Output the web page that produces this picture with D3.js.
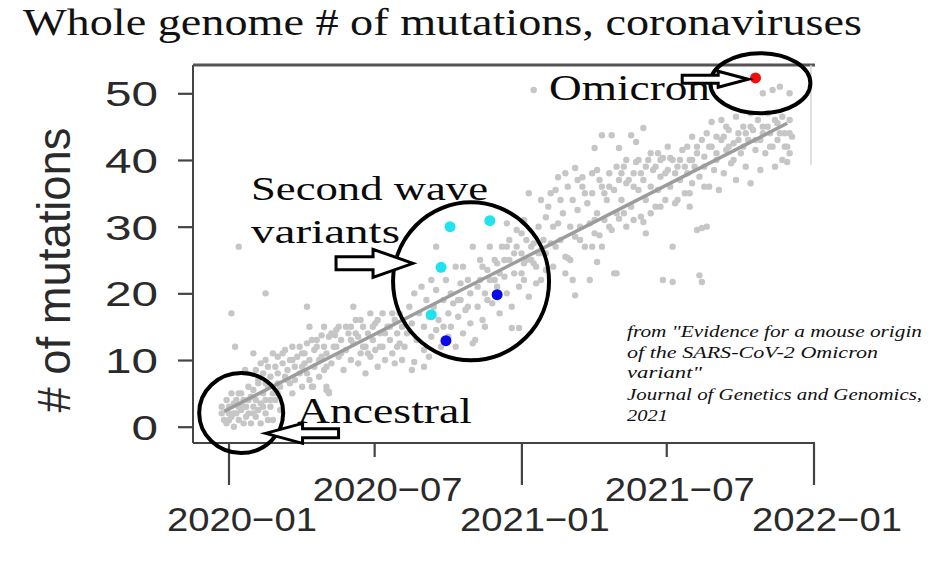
<!DOCTYPE html>
<html>
<head>
<meta charset="utf-8">
<script src="https://cdn.jsdelivr.net/npm/d3@7"></script>
<style>
  body { margin: 0; background: #fff; }
  svg { display: block; }
</style>
</head>
<body>
<div id="plot"></div>
<script>
// data: [months since 2020-01-01, # of mutations]
const grayPoints = [
  // ancestral cluster
  [-0.3,3],[-0.3,2],[-0.2,1],[-0.1,4],[-0.1,0.5],[0,3],[0,2],[0.1,1.5],[0.1,5],[0.2,3.5],[0.2,0],
  [0.3,2],[0.3,4],[0.4,1],[0.4,3],[0.5,5],[0.5,2.5],[0.6,0.5],[0.6,4],[0.7,3],[0.7,1.5],[0.8,6],
  [0.8,2],[0.9,4.5],[0.9,0.5],[1.0,3],[1.0,5.5],[1.1,1.5],[1.1,4],[1.2,2.5],[1.2,6.5],[1.3,3.5],
  [1.3,0.5],[1.4,5],[1.5,2],[1.5,4],[1.6,6],[1.7,3],[1.8,1],[1.8,5],[1.9,4],[2.0,6.5],[2.1,2.5],
  [0.2,2],[0.6,3],[1.0,2],[1.4,3],[0.8,4],[1.6,1],[0.0,1],[0.4,5],
  // early outliers
  [0.4,27],[1.5,20],[0.1,17],[0.25,12],[1.0,11],[3.2,18],[5.1,18],[0.66,8.5],[3.45,6],[4.0,6],[4.1,5.2],
  // 2020-02 .. 2020-05
  [1.1,8.5],[1.2,7],[1.3,9.5],[1.4,8],[1.5,10],[1.5,6.5],[1.6,9],[1.7,7.5],[1.8,11],[1.9,9],[2.0,8],
  [2.0,10.5],[2.1,6],[2.2,9.5],[2.3,7.5],[2.3,11.5],[2.4,8.5],[2.5,10],[2.5,6.5],[2.6,12],[2.7,9],
  [2.7,7],[2.8,10.5],[2.9,8],[3.0,11],[3.0,6],[3.1,9.5],[3.2,12.5],[3.2,8],[3.3,10],[3.4,6],[3.5,11.5],
  [3.5,9],[3.6,13],[3.7,7.5],[3.8,10.5],[3.9,12],[3.9,8.5],[4.0,5.5],[4.0,11],[4.1,5],[4.1,13.5],
  [3.3,15],[3.9,15],[4.5,15],[3.8,13.7],[4.35,13.7],
  [2.2,11],[2.6,10],[2.9,12],[3.1,11],[3.4,13],[3.6,12],[3.7,10],[4.0,9],[3.0,9],[2.4,7],[2.0,5],
  [1.7,4],[2.6,5],[3.3,7],
  // 2020-05 .. 2020-08
  [4.2,9.5],[4.3,12],[4.4,14.5],[4.5,10.5],[4.6,13],[4.7,8.5],[4.8,11.5],[4.9,14],[5.0,15],
  [5.0,10],[5.1,12.5],[5.2,16],[5.3,9.5],[5.3,13.5],[5.4,11],[5.5,15],[5.6,12],[5.6,8],[5.7,14],
  [5.8,17],[5.8,10.5],[5.9,13],[6.0,15.5],[6.0,11.5],[6.1,9],[6.2,14],[6.3,17],[6.3,12],[6.4,10],
  [6.5,15],[6.6,13],[6.7,11],[6.8,16],[6.8,9.5],[6.9,14],[7.0,12.5],[7.1,10],[7.2,12],[7.0,17],
  [4.2,14],[4.4,12],[4.6,11],[4.8,15],[5.0,13],[5.2,14],[5.4,16],[5.5,12],[5.7,11],[5.9,15],
  [6.1,16],[6.2,12],[6.4,14],[6.6,15],[6.7,17],[6.9,12],[7.1,15],
  // 2020-08 .. 2020-11
  [7.3,14],[7.4,18],[7.5,15.5],[7.6,9.7],[7.6,20],[7.7,13],[7.8,17],[7.9,21],[8.0,15],[8.0,11.5],
  [8.1,19],[8.2,16.5],[8.3,22],[8.3,13.5],[8.4,18],[8.5,14.5],[8.5,20.5],[8.6,16],[8.7,12],[8.8,19],
  [8.8,15],[8.9,22],[9.0,17],[9.0,13.5],[9.1,20],[9.1,15],[9.2,18.5],[9.3,24],[9.3,12],[9.4,16.5],
  [9.5,21.5],[9.5,19],[9.6,14],[9.6,24],[9.7,17.5],[9.8,22],[9.9,15.5],[9.9,20],[10.0,12.5],
  [10.0,27],[8.5,27],[8.2,10.5],[8.0,9],[7.5,8.5],[9.4,19],[9.8,18],
  // 2020-11 .. 2021-02
  [10.1,13],[10.2,18],[10.3,22],[10.3,25],[10.4,16],[10.5,20],[10.5,15],[10.6,23.5],[10.7,22],
  [10.7,27],[10.8,18.5],[10.9,25],[11.0,21],[11.0,24.5],[11.1,17],[11.2,27],[11.3,22.5],[11.4,20],
  [11.4,30.5],[11.4,27],[11.5,25],[11.6,14.8],[11.6,18],[11.7,23],[11.8,29.5],[11.8,27],[11.9,14.8],
  [11.9,21],[12.0,26],[12.1,24.5],[12.1,31],[12.1,22],[12.2,28],[12.3,19.5],[12.3,35],[12.4,25],
  [12.5,27.5],[12.5,24.5],[12.6,21.5],[12.7,30],[12.8,22],[12.8,34],[12.9,26],[13.0,31.4],[13.0,23.5],
  [12.5,50.5],
  [10.2,21],[10.6,19],[11.1,23],[11.3,25],[11.7,26],[12.0,23],[12.2,25],[12.4,27],[12.6,24],[12.9,28],
  [13.0,26],[10.4,24],[10.9,22],[11.5,28],[12.0,29],[12.7,26],
  // 2021-02 .. 2021-05
  [13.1,33],[13.2,27.5],[13.3,30],[13.3,24],[13.4,35.5],[13.5,30.5],[13.5,37.4],[13.6,28],[13.7,32],
  [13.8,25.5],[13.8,38],[13.8,23],[13.9,25.3],[14.0,30],[14.0,25],[14.1,34],[14.1,22],[14.2,28.5],
  [14.2,38.8],[14.2,19.7],[14.3,32.5],[14.4,30],[14.5,36],[14.5,37.4],[14.6,27],[14.7,33.5],[14.8,22],
  [14.8,30.5],[14.9,35],[14.9,27],[15.0,29],[15.0,41.8],[15.1,38.5],[15.1,24.7],[15.1,32],[15.2,28.7],
  [15.3,36],[15.3,43.7],[15.3,27],[15.4,31],[15.5,34],[15.6,38],[15.7,43.7],[15.7,29.5],[15.8,23],
  [15.8,35.5],[15.9,32],[15.9,23],[16.0,41.8],[16.0,31.2],[16.0,37],
  [13.2,35],[13.6,34],[13.9,36],[14.3,37],[14.6,35],[14.9,38],[15.2,37],[15.4,35],[15.6,36],[15.9,39],
  [13.4,27],[14.4,28],[15.0,31],[15.6,30],
  // 2021-05 .. 2021-08
  [16.1,34],[16.2,39],[16.3,30],[16.3,36.5],[16.5,43.7],[16.5,33],[16.6,38],[16.7,42.7],[16.7,39.7],
  [16.8,35.5],[16.9,31.5],[17.0,44.8],[17.0,37],[17.0,30.7],[17.1,29],[17.1,34],[17.2,40],[17.3,36],
  [17.4,38.5],[17.5,33],[17.6,41],[17.6,35.5],[17.7,37.5],[17.8,40.3],[17.8,22],[17.9,34],[18.0,38.5],
  [18.1,40.3],[18.1,36],[18.2,27],[18.2,21.7],[18.3,33.5],[18.4,39],[18.5,37],[18.6,41.5],[18.7,35],
  [18.8,38],[18.9,40],[18.9,33],[19.0,43.5],[19.0,36.5],[19.2,29.5],[19.3,22.7],[19.4,21.7],[19.4,29.8],
  [16.1,38],[16.3,40],[16.4,37],[16.6,36],[16.8,40],[16.9,38],[17.1,39],[17.3,41],[17.5,39],[17.7,40],
  [17.9,38],[18.0,42],[18.2,40],[18.3,38],[18.5,40],[18.7,39],[18.8,42],[19.0,40],
  [16.2,32],[16.6,31],[17.3,32],[17.7,33],[18.4,34],[18.9,35],
  // 2021-08 .. 2021-12
  [19.1,39],[19.2,42],[19.3,37.5],[19.5,40.5],[19.6,44],[19.6,30],[19.7,42],[19.7,36],[19.8,45.7],
  [19.9,38.5],[20.0,43.5],[20.0,40],[20.1,35.5],[20.2,46],[20.3,43.5],[20.3,38],[20.4,41.5],[20.5,44.5],
  [20.6,39.5],[20.7,42.5],[20.8,46.5],[20.8,37],[20.9,44],[21.0,41],[21.1,45],[21.2,39],[21.3,43],
  [21.4,47],[21.4,36.5],[21.5,44.5],[21.6,41.5],[21.7,46],[21.8,43],[21.8,38.5],[21.9,50],[21.9,45],
  [22.0,41],[22.1,47],[22.2,44],[22.3,42],[22.3,50.5],[22.4,39],[22.5,45.5],[22.5,43],[22.6,51],
  [22.7,40],[22.7,46.5],[22.8,44],[22.9,39.7],[22.9,42],[23.0,50],[23.0,46],[23.1,43.5],
  [19.2,41],[19.4,43],[19.5,39],[19.8,42],[20.0,41],[20.2,43],[20.4,45],[20.5,42],[20.7,40],[20.9,43],
  [21.1,42],[21.2,44],[21.4,45],[21.6,43],[21.9,44],[22.1,45],[22.2,42],[22.4,46],[22.6,44],[22.8,42],
  [23.0,44],[23.0,41],[19.5,36]
];

// highlighted variants
const cyanPoints = [[9.07,30],[10.7,30.9],[8.7,23.9],[8.3,16.8]];
const bluePoints = [[11.0,19.8],[8.9,12.9]];
const redPoints = [[21.6,52.3]];

// fitted trend line ends
const trendMonths = [-0.2, 22.9];
const trendValues = [2.3, 45.5];

const xTickDates = ["2020-01-01", "2020-07-01", "2021-01-01", "2021-07-01", "2022-01-01"];
const xTickLabels = ["2020\u221201", "2020\u221207", "2021\u221201", "2021\u221207", "2022\u221201"];
const xTickLong = [true, false, true, false, true];
const yTicks = [0, 10, 20, 30, 40, 50];

const citationLines = [
  "from \"Evidence for a mouse origin",
  "of the SARS-CoV-2 Omicron",
  "variant\"",
  "Journal of Genetics and Genomics,",
  "2021"
];

const W = 951, H = 577;
const box = { left: 193, right: 815, top: 65, bottom: 443 };

const svg = d3.select("#plot").append("svg")
  .attr("width", W)
  .attr("height", H);

svg.append("rect").attr("width", W).attr("height", H).attr("fill", "#fff");

const parse = d3.timeParse("%Y-%m-%d");
const t0 = parse("2020-01-01");
const dayMs = 24 * 3600 * 1000;
// months since 2020-01 -> date (731 days per 24 months)
const monthToDate = m => new Date(t0.getTime() + m * (731 / 24) * dayMs);

const x = d3.scaleTime()
  .domain([parse("2020-01-01"), parse("2022-01-01")])
  .range([229, 814]);

const y = d3.scaleLinear()
  .domain([0, 50])
  .range([426.7, 93.3]);

// title
svg.append("text")
  .attr("x", 23)
  .attr("y", 35)
  .attr("font-family", "Liberation Serif, Times New Roman, serif")
  .attr("font-size", 38)
  .attr("textLength", 839)
  .attr("lengthAdjust", "spacingAndGlyphs")
  .attr("fill", "#111")
  .text("Whole genome # of mutations, coronaviruses");

// gray scatter
svg.append("g")
  .selectAll("circle")
  .data(grayPoints)
  .enter().append("circle")
  .attr("cx", d => x(monthToDate(d[0])))
  .attr("cy", d => y(d[1]))
  .attr("r", 3.2)
  .attr("fill", "#c6c6c6");

// trend line
svg.append("path")
  .datum(trendMonths.map((m, i) => [m, trendValues[i]]))
  .attr("d", d3.line().x(d => x(monthToDate(d[0]))).y(d => y(d[1])))
  .attr("stroke", "#9c9c9c")
  .attr("stroke-width", 3.5)
  .attr("fill", "none");

// highlighted points
function drawPoints(data, color) {
  svg.append("g")
    .selectAll("circle")
    .data(data)
    .enter().append("circle")
    .attr("cx", d => x(monthToDate(d[0])))
    .attr("cy", d => y(d[1]))
    .attr("r", 5.5)
    .attr("fill", color);
}
drawPoints(cyanPoints, "#1fe3ef");
drawPoints(bluePoints, "#0a0ae6");
drawPoints(redPoints, "#f20d0d");

// plot box (right side mostly erased in the source)
const frame = svg.append("g").attr("fill", "none");
frame.append("line").attr("x1", box.left).attr("x2", box.left).attr("y1", box.top).attr("y2", box.bottom)
  .attr("stroke", "#444").attr("stroke-width", 2);
frame.append("line").attr("x1", box.left).attr("x2", box.right).attr("y1", box.top).attr("y2", box.top)
  .attr("stroke", "#555").attr("stroke-width", 3);
frame.append("line").attr("x1", box.left).attr("x2", box.right).attr("y1", box.bottom).attr("y2", box.bottom)
  .attr("stroke", "#444").attr("stroke-width", 2);
frame.append("line").attr("x1", box.right - 4).attr("x2", box.right - 4).attr("y1", box.top).attr("y2", 165)
  .attr("stroke", "#d6d6d6").attr("stroke-width", 1.5);

// y axis
const yAxis = svg.append("g")
  .attr("transform", "translate(" + box.left + ",0)")
  .call(d3.axisLeft(y).tickValues(yTicks).tickSize(15).tickPadding(20));
yAxis.select(".domain").remove();
yAxis.selectAll(".tick line").attr("stroke", "#444").attr("stroke-width", 2.2);
yAxis.selectAll(".tick text")
  .attr("x", -35)
  .attr("dy", "0.36em")
  .attr("font-family", "Liberation Sans, Arial, sans-serif")
  .attr("font-size", 35)
  .attr("fill", "#2a2a2a")
  .attr("textLength", d => String(d).length * 26.5)
  .attr("lengthAdjust", "spacingAndGlyphs");

svg.append("text")
  .attr("transform", "translate(70,270) rotate(-90)")
  .attr("text-anchor", "middle")
  .attr("font-family", "Liberation Sans, Arial, sans-serif")
  .attr("font-size", 46)
  .attr("textLength", 285)
  .attr("lengthAdjust", "spacingAndGlyphs")
  .attr("fill", "#2a2a2a")
  .text("# of mutations");

// x axis: long ticks at January, short at July, labels staggered
const xg = svg.append("g");
xTickDates.forEach((ds, i) => {
  const px = x(parse(ds));
  const len = xTickLong[i] ? 42 : 14;
  xg.append("line")
    .attr("x1", px).attr("x2", px)
    .attr("y1", box.bottom).attr("y2", box.bottom + len)
    .attr("stroke", "#444").attr("stroke-width", 2.2);
  xg.append("text")
    .attr("x", px + 13)
    .attr("y", xTickLong[i] ? 531 : 501)
    .attr("text-anchor", "middle")
    .attr("font-family", "Liberation Sans, Arial, sans-serif")
    .attr("font-size", 34)
    .attr("textLength", 150)
    .attr("lengthAdjust", "spacingAndGlyphs")
    .attr("fill", "#2a2a2a")
    .text(xTickLabels[i]);
});

// annotations: ellipses (centre in data units, radii in px)
const rings = [
  { m: 21.8, v: 51.5, rx: 50, ry: 30 },
  { m: 9.93, v: 21.8, rx: 78, ry: 79 },
  { m: 0.5, v: 2.05, rx: 42, ry: 40 }
];
svg.append("g")
  .selectAll("ellipse")
  .data(rings)
  .enter().append("ellipse")
  .attr("cx", d => x(monthToDate(d.m)))
  .attr("cy", d => y(d.v))
  .attr("rx", d => d.rx)
  .attr("ry", d => d.ry)
  .attr("fill", "none")
  .attr("stroke", "#000")
  .attr("stroke-width", 4);

// block arrows: tip in data units, dir +1 right / -1 left
const arrows = [
  { m: 21.3, v: 52.1, dir: 1, shaft: 36, head: 30, sh: 8, hh: 16 },
  { m: 7.55, v: 24.5, dir: 1, shaft: 37, head: 40, sh: 13, hh: 28 },
  { m: 1.5, v: -1.0, dir: -1, shaft: 36, head: 37, sh: 9, hh: 20 }
];
arrows.forEach(a => {
  const tx = x(monthToDate(a.m)), ty = y(a.v);
  const d = a.dir;
  const bx = tx - d * a.head, ex = bx - d * a.shaft;
  const pts = [
    [tx, ty], [bx, ty - a.hh / 2], [bx, ty - a.sh / 2], [ex, ty - a.sh / 2],
    [ex, ty + a.sh / 2], [bx, ty + a.sh / 2], [bx, ty + a.hh / 2]
  ];
  svg.append("path")
    .attr("d", "M" + pts.map(p => p.join(",")).join("L") + "Z")
    .attr("fill", "#fff")
    .attr("stroke", "#000")
    .attr("stroke-width", 3)
    .attr("stroke-linejoin", "miter");
});

// labels
const labels = [
  { text: "Omicron", x: 549, y: 100, len: 161, size: 36 },
  { text: "Second wave", x: 251, y: 200, len: 237, size: 34 },
  { text: "variants", x: 251, y: 243, len: 149, size: 34 },
  { text: "Ancestral", x: 297, y: 423, len: 175, size: 36 }
];
labels.forEach(l => {
  svg.append("text")
    .attr("x", l.x).attr("y", l.y)
    .attr("font-family", "Liberation Serif, Times New Roman, serif")
    .attr("font-size", l.size)
    .attr("textLength", l.len)
    .attr("lengthAdjust", "spacingAndGlyphs")
    .attr("fill", "#0a0a0a")
    .text(l.text);
});

// citation
const citeY = [337, 358, 378, 400, 421];
const citeLen = [295, 251, 75, 295, 41];
citationLines.forEach((t, i) => {
  svg.append("text")
    .attr("x", 627).attr("y", citeY[i])
    .attr("font-family", "Liberation Serif, Times New Roman, serif")
    .attr("font-style", "italic")
    .attr("font-size", 17)
    .attr("textLength", citeLen[i])
    .attr("lengthAdjust", "spacingAndGlyphs")
    .attr("fill", "#111")
    .text(t);
});
</script>
</body>
</html>
